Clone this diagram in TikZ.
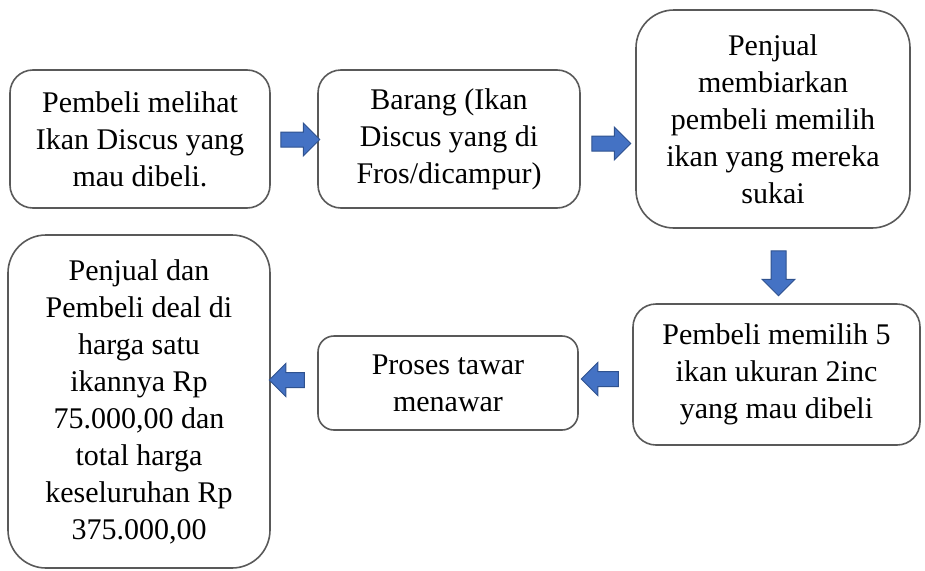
\documentclass[tikz,border=0pt]{standalone}
\usepackage{fontspec}
\setmainfont{Liberation Serif}
\usetikzlibrary{shapes.arrows,positioning}
\definecolor{arrowfill}{HTML}{4472C4}
\definecolor{arrowline}{HTML}{2F528F}
\definecolor{boxline}{HTML}{595959}
\tikzset{
    proc box/.style={rectangle, draw=boxline, line width=1.6pt, fill=white, align=center, inner sep=0pt, font=\fontsize{30}{37}\selectfont},
    small round/.style={proc box, rounded corners=16pt},
    mid round/.style={proc box, rounded corners=23pt},
    big round/.style={proc box, rounded corners=38pt},
    block arrow/.style={single arrow, draw=arrowline, fill=arrowfill, line width=1pt, inner sep=0pt, text height=7pt, text depth=7pt, single arrow head extend=9pt, single arrow tip angle=90}
}
\begin{document}
\begin{tikzpicture}[x=1pt,y=-1pt]
    \useasboundingbox (0,0) rectangle (925,570);
    % top row
    \node[mid round, minimum width=260pt, minimum height=138pt] (lihat) at (140,139)
        {Pembeli melihat\\Ikan Discus yang\\mau dibeli.};
    \node[mid round, minimum width=262pt, minimum height=138pt] (barang) at (449,139)
        {Barang (Ikan\\Discus yang di\\Fros/dicampur)};
    \node[big round, minimum width=274pt, minimum height=218pt] (pilih) at (773,119)
        {Penjual\\membiarkan\\pembeli memilih\\ikan yang mereka\\sukai};
    % bottom row
    \node[mid round, minimum width=287pt, minimum height=141pt] (lima) at (776.5,374.5)
        {Pembeli memilih 5\\ikan ukuran 2inc\\yang mau dibeli};
    \node[small round, minimum width=260pt, minimum height=94pt] (tawar) at (448,383)
        {Proses tawar\\menawar};
    \node[big round, minimum width=262pt, minimum height=333pt] (deal) at (139,401.5)
        {Penjual dan\\Pembeli deal di\\harga satu\\ikannya Rp\\75.000,00 dan\\total harga\\keseluruhan Rp\\375.000,00};
    % block arrows between the steps
    \node[block arrow, minimum height=39pt] (a1) at (296.5,139.5) {};
    \node[block arrow, minimum height=39pt] (a2) at (607.5,143.5) {};
    \node[block arrow, minimum height=45pt, rotate=-90] (a3) at (778.5,269.5) {};
    \node[block arrow, minimum height=37pt, rotate=180] (a4) at (603.5,379) {};
    \node[block arrow, minimum height=35pt, rotate=180] (a5) at (290.5,380) {};
\end{tikzpicture}
\end{document}
